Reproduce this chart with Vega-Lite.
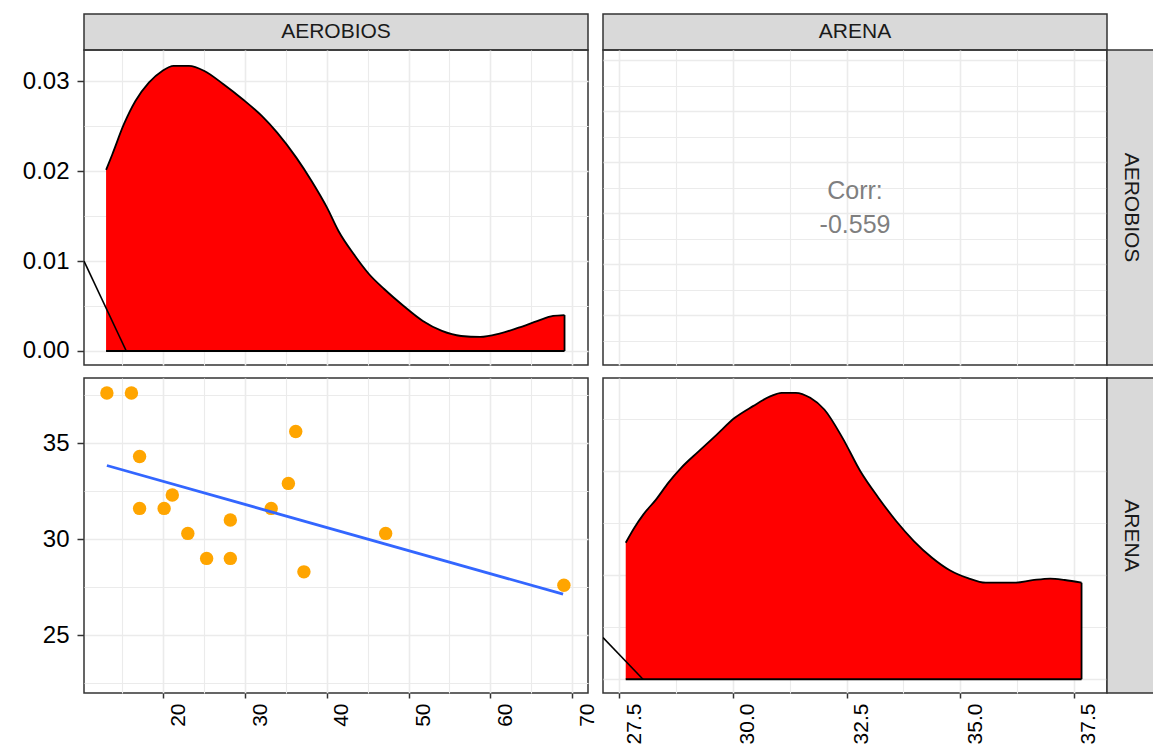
{
  "$schema": "https://vega.github.io/schema/vega-lite/v6.json",
  "background": "white",
  "padding": {"left": 21, "top": 8, "right": 0, "bottom": 0},
  "autosize": {"type": "pad"},
  "columns": 4,
  "spacing": 0,
  "align": "each",
  "bounds": "flush",
  "datasets": {
    "pts": [
      {"AEROBIOS": 13.1, "ARENA": 37.6}, {"AEROBIOS": 16.1, "ARENA": 37.6},
      {"AEROBIOS": 17.1, "ARENA": 34.3}, {"AEROBIOS": 17.1, "ARENA": 31.6},
      {"AEROBIOS": 20.1, "ARENA": 31.6}, {"AEROBIOS": 21.1, "ARENA": 32.3},
      {"AEROBIOS": 23.0, "ARENA": 30.3}, {"AEROBIOS": 25.3, "ARENA": 29.0},
      {"AEROBIOS": 28.2, "ARENA": 31.0}, {"AEROBIOS": 28.2, "ARENA": 29.0},
      {"AEROBIOS": 33.2, "ARENA": 31.6}, {"AEROBIOS": 35.3, "ARENA": 32.9},
      {"AEROBIOS": 36.2, "ARENA": 35.6}, {"AEROBIOS": 37.2, "ARENA": 28.3},
      {"AEROBIOS": 47.2, "ARENA": 30.3}, {"AEROBIOS": 69.0, "ARENA": 27.6}
    ],
    "fit": [{"AEROBIOS": 13.1, "ARENA": 33.83}, {"AEROBIOS": 68.9, "ARENA": 27.14}],
    "dA": [
      {"x": 13.0, "d": 0.02015}, {"x": 13.77, "d": 0.0219}, {"x": 15.18, "d": 0.02524},
      {"x": 16.59, "d": 0.02783}, {"x": 18.23, "d": 0.02987}, {"x": 19.87, "d": 0.03117},
      {"x": 21.27, "d": 0.03173}, {"x": 23.14, "d": 0.03173}, {"x": 25.03, "d": 0.03117},
      {"x": 27.36, "d": 0.02969}, {"x": 29.71, "d": 0.02802}, {"x": 32.05, "d": 0.02616},
      {"x": 33.93, "d": 0.0243}, {"x": 36.27, "d": 0.02152}, {"x": 38.14, "d": 0.01892},
      {"x": 40.03, "d": 0.01595}, {"x": 41.43, "d": 0.01336}, {"x": 43.31, "d": 0.01076},
      {"x": 45.18, "d": 0.00854}, {"x": 47.05, "d": 0.00687}, {"x": 49.4, "d": 0.00501},
      {"x": 51.75, "d": 0.00334}, {"x": 54.08, "d": 0.00223}, {"x": 56.43, "d": 0.00167},
      {"x": 58.77, "d": 0.00156}, {"x": 61.12, "d": 0.00193}, {"x": 63.46, "d": 0.00259},
      {"x": 65.8, "d": 0.00334}, {"x": 67.68, "d": 0.0039}, {"x": 69.08, "d": 0.004}
    ],
    "dR": [
      {"x": 27.64, "d": 0.0655}, {"x": 27.83, "d": 0.0727}, {"x": 28.03, "d": 0.0791},
      {"x": 28.31, "d": 0.0863}, {"x": 28.58, "d": 0.0943}, {"x": 28.86, "d": 0.1014},
      {"x": 29.25, "d": 0.1094}, {"x": 29.65, "d": 0.1175}, {"x": 30.04, "d": 0.1254},
      {"x": 30.44, "d": 0.131}, {"x": 30.83, "d": 0.1358}, {"x": 31.07, "d": 0.1374},
      {"x": 31.38, "d": 0.1374}, {"x": 31.7, "d": 0.135}, {"x": 32.01, "d": 0.1294},
      {"x": 32.41, "d": 0.1158}, {"x": 32.8, "d": 0.0999}, {"x": 33.2, "d": 0.0871},
      {"x": 33.59, "d": 0.0759}, {"x": 33.98, "d": 0.0663}, {"x": 34.38, "d": 0.0583},
      {"x": 34.77, "d": 0.0523}, {"x": 35.17, "d": 0.0485}, {"x": 35.56, "d": 0.0463},
      {"x": 36.19, "d": 0.0463}, {"x": 36.59, "d": 0.0475}, {"x": 36.98, "d": 0.0483},
      {"x": 37.3, "d": 0.0476}, {"x": 37.67, "d": 0.0463}
    ],
    "edgeA": [
      {"x": 13.0, "d": 0, "x2": 69.08, "d2": 0},
      {"x": 69.08, "d": 0, "x2": 69.08, "d2": 0.004}
    ],
    "edgeR": [
      {"x": 27.64, "d": 0, "x2": 37.67, "d2": 0},
      {"x": 37.67, "d": 0, "x2": 37.67, "d2": 0.0463}
    ],
    "diagA": [{"x": 10.3, "d": 0.01}, {"x": 15.47, "d": 0}],
    "diagR": [{"x": 27.14, "d": 0.02}, {"x": 28.02, "d": 0}]
  },
  "concat": [
    {
      "width": 504, "height": 36,
      "view": {"fill": "#D9D9D9", "stroke": "#333333", "strokeWidth": 1.5},
      "data": {"values": [{"label": "AEROBIOS"}]},
      "mark": {"type": "text", "fontSize": 21, "font": "Liberation Sans", "color": "#1A1A1A"},
      "encoding": {"text": {"field": "label", "type": "nominal"}}
    },
    {"width": 15, "height": 1, "data": {"values": [{"label": ""}]}, "mark": {"type": "text"}, "encoding": {"text": {"field": "label", "type": "nominal"}}},
    {
      "width": 504, "height": 36,
      "view": {"fill": "#D9D9D9", "stroke": "#333333", "strokeWidth": 1.5},
      "data": {"values": [{"label": "ARENA"}]},
      "mark": {"type": "text", "fontSize": 21, "font": "Liberation Sans", "color": "#1A1A1A"},
      "encoding": {"text": {"field": "label", "type": "nominal"}}
    },
    {"width": 47, "height": 1, "data": {"values": [{"label": ""}]}, "mark": {"type": "text"}, "encoding": {"text": {"field": "label", "type": "nominal"}}},

    {
      "width": 504, "height": 315,
      "view": {"stroke": "#333333", "strokeWidth": 1.5},
      "layer": [
        {
          "data": {"name": "dA"},
          "mark": {"type": "area", "color": "#FF0000", "opacity": 1, "interpolate": "monotone"},
          "encoding": {
            "x": {"field": "x", "type": "quantitative",
              "scale": {"domain": [10.3, 71.95], "nice": false, "zero": false},
              "axis": {"values": [15, 20, 25, 30, 35, 40, 45, 50, 55, 60, 65, 70], "labels": false, "ticks": false, "grid": true,
                "gridWidth": {"condition": {"test": "datum.value % 10 == 0", "value": 1.6}, "value": 1.1}}},
            "y": {"field": "d", "type": "quantitative",
              "scale": {"domain": [-0.00156, 0.0335], "nice": false, "zero": false},
              "axis": {"values": [0, 0.005, 0.01, 0.015, 0.02, 0.025, 0.03], "grid": true,
                "labelExpr": "abs(datum.value*100 - round(datum.value*100)) < 0.01 ? format(datum.value, '.2f') : ''",
                "tickOpacity": {"condition": {"test": "abs(datum.value*100 - round(datum.value*100)) < 0.01", "value": 1}, "value": 0},
                "gridWidth": {"condition": {"test": "abs(datum.value*100 - round(datum.value*100)) < 0.01", "value": 1.6}, "value": 1.1},
                "tickSize": 7, "labelPadding": 8}}
          }
        },
        {
          "data": {"name": "dA"},
          "mark": {"type": "line", "color": "#000000", "strokeWidth": 1.8, "interpolate": "monotone"},
          "encoding": {"x": {"field": "x", "type": "quantitative"}, "y": {"field": "d", "type": "quantitative"}}
        },
        {
          "data": {"name": "edgeA"},
          "mark": {"type": "rule", "color": "#000000", "strokeWidth": 1.8},
          "encoding": {"x": {"field": "x", "type": "quantitative"}, "x2": {"field": "x2"}, "y": {"field": "d", "type": "quantitative"}, "y2": {"field": "d2"}}
        },
        {
          "data": {"name": "diagA"},
          "mark": {"type": "line", "color": "#000000", "strokeWidth": 1.6, "clip": true},
          "encoding": {"x": {"field": "x", "type": "quantitative"}, "y": {"field": "d", "type": "quantitative"}}
        }
      ]
    },
    {"width": 15, "height": 1, "data": {"values": [{"label": ""}]}, "mark": {"type": "text"}, "encoding": {"text": {"field": "label", "type": "nominal"}}},
    {
      "width": 504, "height": 315,
      "view": {"stroke": "#333333", "strokeWidth": 1.5},
      "layer": [
        {
          "data": {"name": "pts"},
          "mark": {"type": "point", "opacity": 0},
          "encoding": {
            "x": {"field": "ARENA", "type": "quantitative",
              "scale": {"domain": [27.14, 38.23], "nice": false, "zero": false},
              "axis": {"values": [27.5, 28.75, 30, 31.25, 32.5, 33.75, 35, 36.25, 37.5], "labels": false, "ticks": false, "grid": true,
                "gridWidth": {"condition": {"test": "abs(datum.value/2.5 - round(datum.value/2.5)) < 0.01", "value": 1.6}, "value": 1.1}}},
            "y": {"field": "AEROBIOS", "type": "quantitative",
              "scale": {"domain": [10.3, 71.95], "nice": false, "zero": false},
              "axis": {"values": [15, 20, 25, 30, 35, 40, 45, 50, 55, 60, 65, 70], "labels": false, "ticks": false, "grid": true,
                "gridWidth": {"condition": {"test": "datum.value % 10 == 0", "value": 1.6}, "value": 1.1}}}
          }
        },
        {
          "data": {"values": [{"t": "Corr:\n-0.559"}]},
          "mark": {"type": "text", "fontSize": 25, "font": "Liberation Sans", "color": "#7F7F7F", "lineBreak": "\n", "lineHeight": 34, "dy": -17},
          "encoding": {"text": {"field": "t", "type": "nominal"}}
        }
      ]
    },
    {
      "width": 47, "height": 315,
      "view": {"fill": "#D9D9D9", "stroke": "#333333", "strokeWidth": 1.5},
      "data": {"values": [{"label": "AEROBIOS"}]},
      "mark": {"type": "text", "fontSize": 21, "font": "Liberation Sans", "color": "#1A1A1A", "angle": 90},
      "encoding": {"text": {"field": "label", "type": "nominal"}}
    },

    {"width": 1, "height": 13, "data": {"values": [{"label": ""}]}, "mark": {"type": "text"}, "encoding": {"text": {"field": "label", "type": "nominal"}}},
    {"width": 1, "height": 13, "data": {"values": [{"label": ""}]}, "mark": {"type": "text"}, "encoding": {"text": {"field": "label", "type": "nominal"}}},
    {"width": 1, "height": 13, "data": {"values": [{"label": ""}]}, "mark": {"type": "text"}, "encoding": {"text": {"field": "label", "type": "nominal"}}},
    {"width": 1, "height": 13, "data": {"values": [{"label": ""}]}, "mark": {"type": "text"}, "encoding": {"text": {"field": "label", "type": "nominal"}}},

    {
      "width": 504, "height": 315,
      "view": {"stroke": "#333333", "strokeWidth": 1.5},
      "layer": [
        {
          "data": {"name": "pts"},
          "mark": {"type": "circle", "size": 180, "color": "#FFA500", "opacity": 1},
          "encoding": {
            "x": {"field": "AEROBIOS", "type": "quantitative",
              "scale": {"domain": [10.3, 71.95], "nice": false, "zero": false},
              "axis": {"values": [15, 20, 25, 30, 35, 40, 45, 50, 55, 60, 65, 70], "grid": true,
                "labelExpr": "datum.value % 10 == 0 ? datum.label : ''",
                "tickOpacity": {"condition": {"test": "datum.value % 10 == 0", "value": 1}, "value": 0},
                "gridWidth": {"condition": {"test": "datum.value % 10 == 0", "value": 1.6}, "value": 1.1},
                "labelAngle": 270, "labelFontSize": 21, "labelOffset": 15, "tickSize": 5, "labelPadding": 5}},
            "y": {"field": "ARENA", "type": "quantitative",
              "scale": {"domain": [22.0, 38.38], "nice": false, "zero": false},
              "axis": {"values": [22.5, 25, 27.5, 30, 32.5, 35, 37.5], "grid": true,
                "labelExpr": "datum.value % 5 == 0 ? datum.label : ''",
                "tickOpacity": {"condition": {"test": "datum.value % 5 == 0", "value": 1}, "value": 0},
                "gridWidth": {"condition": {"test": "datum.value % 5 == 0", "value": 1.6}, "value": 1.1},
                "tickSize": 7, "labelPadding": 8}}
          }
        },
        {
          "data": {"name": "fit"},
          "mark": {"type": "line", "color": "#3366FF", "strokeWidth": 2.8},
          "encoding": {"x": {"field": "AEROBIOS", "type": "quantitative"}, "y": {"field": "ARENA", "type": "quantitative"}}
        }
      ]
    },
    {"width": 15, "height": 1, "data": {"values": [{"label": ""}]}, "mark": {"type": "text"}, "encoding": {"text": {"field": "label", "type": "nominal"}}},
    {
      "width": 504, "height": 315,
      "view": {"stroke": "#333333", "strokeWidth": 1.5},
      "layer": [
        {
          "data": {"name": "dR"},
          "mark": {"type": "area", "color": "#FF0000", "opacity": 1, "interpolate": "monotone"},
          "encoding": {
            "x": {"field": "x", "type": "quantitative",
              "scale": {"domain": [27.14, 38.23], "nice": false, "zero": false},
              "axis": {"values": [27.5, 28.75, 30, 31.25, 32.5, 33.75, 35, 36.25, 37.5], "grid": true,
                "labelExpr": "abs(datum.value/2.5 - round(datum.value/2.5)) < 0.01 ? format(datum.value, '.1f') : ''",
                "tickOpacity": {"condition": {"test": "abs(datum.value/2.5 - round(datum.value/2.5)) < 0.01", "value": 1}, "value": 0},
                "gridWidth": {"condition": {"test": "abs(datum.value/2.5 - round(datum.value/2.5)) < 0.01", "value": 1.6}, "value": 1.1},
                "labelAngle": 270, "labelFontSize": 21, "labelOffset": 15, "tickSize": 5, "labelPadding": 5}},
            "y": {"field": "d", "type": "quantitative",
              "scale": {"domain": [-0.0066, 0.1445], "nice": false, "zero": false},
              "axis": {"values": [0, 0.025, 0.05, 0.075, 0.1, 0.125], "labels": false, "ticks": false, "grid": true,
                "gridWidth": {"condition": {"test": "abs(datum.value*20 - round(datum.value*20)) < 0.01", "value": 1.6}, "value": 1.1}}}
          }
        },
        {
          "data": {"name": "dR"},
          "mark": {"type": "line", "color": "#000000", "strokeWidth": 1.8, "interpolate": "monotone"},
          "encoding": {"x": {"field": "x", "type": "quantitative"}, "y": {"field": "d", "type": "quantitative"}}
        },
        {
          "data": {"name": "edgeR"},
          "mark": {"type": "rule", "color": "#000000", "strokeWidth": 1.8},
          "encoding": {"x": {"field": "x", "type": "quantitative"}, "x2": {"field": "x2"}, "y": {"field": "d", "type": "quantitative"}, "y2": {"field": "d2"}}
        },
        {
          "data": {"name": "diagR"},
          "mark": {"type": "line", "color": "#000000", "strokeWidth": 1.6, "clip": true},
          "encoding": {"x": {"field": "x", "type": "quantitative"}, "y": {"field": "d", "type": "quantitative"}}
        }
      ]
    },
    {
      "width": 47, "height": 315,
      "view": {"fill": "#D9D9D9", "stroke": "#333333", "strokeWidth": 1.5},
      "data": {"values": [{"label": "ARENA"}]},
      "mark": {"type": "text", "fontSize": 21, "font": "Liberation Sans", "color": "#1A1A1A", "angle": 90},
      "encoding": {"text": {"field": "label", "type": "nominal"}}
    }
  ],
  "config": {
    "view": {"stroke": null},
    "axis": {
      "domain": false,
      "title": null,
      "labelFont": "Liberation Sans",
      "labelFontSize": 24,
      "labelColor": "#000000",
      "tickColor": "#333333",
      "tickWidth": 1.5,
      "gridColor": "#EBEBEB",
      "labelFlush": false,
      "labelOverlap": false,
      "labelBound": false
    }
  }
}
